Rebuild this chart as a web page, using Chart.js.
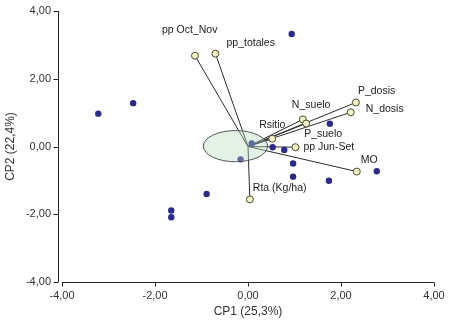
<!DOCTYPE html>
<html>
<head>
<meta charset="utf-8">
<script src="https://cdn.jsdelivr.net/npm/chart.js@4/dist/chart.umd.min.js"></script>
<style>
  html, body { margin: 0; padding: 0; background: #ffffff; }
  #wrap { width: 450px; height: 324px; }
</style>
</head>
<body>
<div id="wrap"><canvas id="c" width="450" height="324"></canvas></div>
<script>
// Observations (scores on CP1 / CP2)
const obsX = [0.94, -2.47, -3.22, -0.89, -1.65, -1.65, 0.08, -0.16, 0.53, 0.78, 0.97, 0.97, 1.74, 2.77, 1.76];
const obsY = [3.32, 1.28, 0.97, -1.40, -1.89, -2.09, 0.09, -0.38, -0.02, -0.10, -0.50, -0.89, -1.01, -0.73, 0.67];

// Variable vectors (loadings)
const varNames = ['pp Oct_Nov', 'pp_totales', 'P_dosis', 'N_dosis', 'N_suelo', 'P_suelo', 'Rsitio', 'pp Jun-Set', 'MO', 'Rta (Kg/ha)'];
const varX = [-1.14, -0.70, 2.32, 2.21, 1.18, 1.25, 0.52, 1.02, 2.34, 0.04];
const varY = [2.68, 2.74, 1.30, 1.01, 0.80, 0.68, 0.23, -0.02, -0.74, -1.56];

// Confidence ellipse (data units)
const ellipseCenter = [-0.27, 0.01];
const ellipseRadii = [0.69, 0.46];

// Axis ticks
const tickValues = [-4, -2, 0, 2, 4];
const axisTitles = ['CP1 (25,3%)', 'CP2 (22,4%)'];

// Label placement (pixel offsets from vector tip: left edge, vertical middle)
const labelOffsets = [[-33, -26], [11, -11], [2, -11], [15, -3], [-11, -14], [-2, 11], [-13, -14], [8, 0], [4, -11], [3, -11]];

const fmt = v => v.toFixed(2).replace('.', ',');
const FONT = "'Liberation Sans', Arial, sans-serif";

const datasets = [];
varNames.forEach((n, i) => {
  datasets.push({
    type: 'line',
    label: n,
    data: [{x: 0, y: 0}, {x: varX[i], y: varY[i]}],
    borderColor: '#2b2b2b',
    borderWidth: 1,
    pointRadius: 0,
    fill: false,
    order: 3
  });
});
datasets.push({
  type: 'scatter',
  label: 'obs',
  data: obsX.map((x, i) => ({x, y: obsY[i]})),
  backgroundColor: '#2a2a8c',
  borderColor: '#2a2a8c',
  borderWidth: 0,
  pointRadius: 3.2,
  order: 2
});
datasets.push({
  type: 'scatter',
  label: 'vars',
  data: varX.map((x, i) => ({x, y: varY[i]})),
  backgroundColor: '#f2f2c4',
  borderColor: '#4a4a30',
  borderWidth: 1,
  pointRadius: 3.5,
  order: 1
});

const overlay = {
  id: 'overlay',
  afterDatasetsDraw(chart) {
    const {ctx, scales: {x, y}} = chart;
    const cx = x.getPixelForValue(ellipseCenter[0]);
    const cy = y.getPixelForValue(ellipseCenter[1]);
    const rx = Math.abs(x.getPixelForValue(ellipseCenter[0] + ellipseRadii[0]) - cx);
    const ry = Math.abs(y.getPixelForValue(ellipseCenter[1] + ellipseRadii[1]) - cy);
    ctx.save();
    ctx.beginPath();
    ctx.ellipse(cx, cy, rx, ry, 0, 0, Math.PI * 2);
    ctx.fillStyle = 'rgba(185,218,193,0.38)';
    ctx.fill();
    ctx.strokeStyle = '#555555';
    ctx.lineWidth = 1;
    ctx.stroke();
    ctx.restore();

    ctx.save();
    ctx.font = "10.5px " + FONT;
    ctx.fillStyle = '#222222';
    ctx.textAlign = 'left';
    ctx.textBaseline = 'middle';
    varNames.forEach((n, i) => {
      const px = x.getPixelForValue(varX[i]);
      const py = y.getPixelForValue(varY[i]);
      ctx.fillText(n, px + labelOffsets[i][0], py + labelOffsets[i][1]);
    });
    ctx.restore();
  },
  afterDraw(chart) {
    const {ctx, chartArea: ca, scales: {x, y}} = chart;
    ctx.save();
    ctx.strokeStyle = '#222222';
    ctx.lineWidth = 1;
    const ax = Math.round(ca.left - 4) + 0.5;
    ctx.beginPath();
    ctx.moveTo(ax, y.getPixelForValue(4));
    ctx.lineTo(ax, y.getPixelForValue(-4));
    tickValues.forEach(v => {
      const py = Math.round(y.getPixelForValue(v)) + 0.5;
      ctx.moveTo(ax - 5, py);
      ctx.lineTo(ax, py);
    });
    ctx.stroke();
    const ay = Math.round(ca.bottom) + 0.5;
    ctx.beginPath();
    ctx.moveTo(x.getPixelForValue(-4), ay);
    ctx.lineTo(x.getPixelForValue(4), ay);
    tickValues.forEach(v => {
      const px = Math.round(x.getPixelForValue(v)) + 0.5;
      ctx.moveTo(px, ay);
      ctx.lineTo(px, ay + 4);
    });
    ctx.stroke();
    ctx.restore();
  }
};

new Chart(document.getElementById('c'), {
  data: { datasets },
  options: {
    responsive: false,
    animation: false,
    layout: { padding: { top: 11, right: 16, left: 0, bottom: 0 } },
    plugins: { legend: { display: false }, tooltip: { enabled: false } },
    scales: {
      x: {
        type: 'linear',
        min: -4, max: 4,
        afterFit: s => { s.height = 42; s.paddingLeft = 0; s.paddingRight = 0; },
        afterBuildTicks: s => { s.ticks = tickValues.map(v => ({value: v})); },
        grid: { display: false, drawTicks: false },
        border: { display: false },
        ticks: { callback: v => fmt(v), color: '#333333', padding: 7, maxRotation: 0, font: { family: FONT, size: 11 } },
        title: { display: true, text: axisTitles[0], color: '#333333', padding: { top: 4, bottom: 5 }, font: { family: FONT, size: 12 } }
      },
      y: {
        type: 'linear',
        min: -4, max: 4,
        afterFit: s => { s.width = 62; s.paddingTop = 0; s.paddingBottom = 0; },
        afterBuildTicks: s => { s.ticks = tickValues.map(v => ({value: v})); },
        grid: { display: false, drawTicks: false },
        border: { display: false },
        ticks: { callback: v => fmt(v), color: '#333333', padding: 11, font: { family: FONT, size: 11 } },
        title: { display: true, text: axisTitles[1], color: '#333333', padding: { top: 3, bottom: 4 }, font: { family: FONT, size: 12 } }
      }
    }
  },
  plugins: [overlay]
});
</script>
</body>
</html>
